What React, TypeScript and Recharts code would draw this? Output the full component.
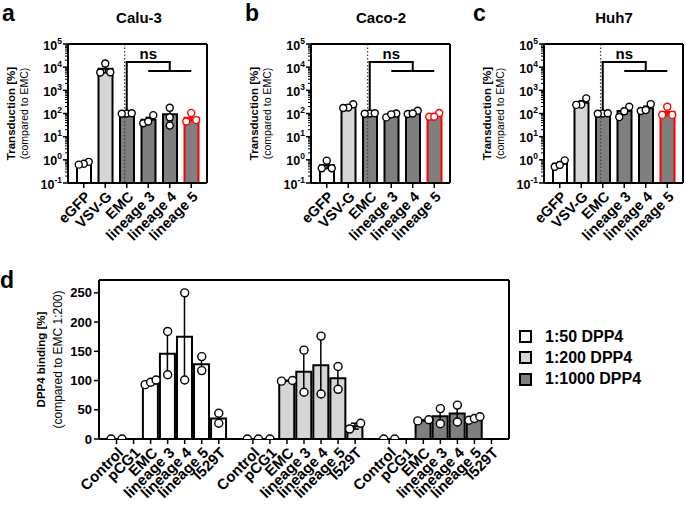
import React from "react";
import {
  Bar,
  Cell,
  ComposedChart,
  ErrorBar,
  Legend,
  ReferenceLine,
  Scatter,
  XAxis,
  YAxis,
} from "recharts";

const FONT = '"Liberation Sans", Arial, sans-serif';

// ---- panels a-c: transduction (log scale) ----
const transCats = ["eGFP", "VSV-G", "EMC", "lineage 3", "lineage 4", "lineage 5"];

const caluMean = [0.7, 8500, 100, 54, 92, 66];
const caluRep1 = [0.82, 14500, 100, 85, 178, 106];
const caluRep2 = [0.68, 5900, 98, 38, 69, 45];
const caluRep3 = [0.62, 6000, 102, 45, 30, 52];
const caluErr = [0.06, 2800, 1, 14, 43, 18];

const cacoMean = [0.58, 205, 100, 82, 108, 82];
const cacoRep1 = [0.92, 250, 100, 100, 132, 105];
const cacoRep2 = [0.43, 180, 98, 68, 95, 72];
const cacoRep3 = [0.43, 172, 102, 92, 100, 72];
const cacoErr = [0.16, 23, 1, 9, 11, 11];

const huhMean = [0.68, 290, 100, 128, 168, 120];
const huhRep1 = [0.95, 450, 100, 195, 255, 195];
const huhRep2 = [0.5, 245, 98, 70, 128, 87];
const huhRep3 = [0.6, 235, 102, 125, 140, 87];
const huhErr = [0.13, 70, 1, 36, 40, 35];

const logMajorTicks = [0.1, 1, 10, 100, 1000, 10000, 100000];
// bracket for "ns": EMC vs lineages
const nsBracket = { start: 116, top: 16600, low: 6800 };

// ---- panel d: DPP4 binding ----
const dppGroups = ["1:50 DPP4", "1:200 DPP4", "1:1000 DPP4"];
const dppCats = ["Control", "pCG1", "EMC", "lineage 3", "lineage 4", "lineage 5", "I529T"];

const dpp50Mean = [0, 0, 95, 146, 175, 128, 35];
const dpp50Rep1 = [0, null, 93, 184, 250, 141, 44];
const dpp50Rep2 = [0, null, 97, 110, 101, 117, 27];
const dpp50Rep3 = [null, null, 101, null, null, null, null];
const dpp50Err = [null, null, 2.4, 37, 75, 12, 8.5];

const dpp200Mean = [0, 0, 99.5, 115, 126, 104, 22];
const dpp200Rep1 = [0, 0, 100, 152, 176, 124, 27];
const dpp200Rep2 = [0, null, 99, 80, 77, 85, 17];
const dpp200Rep3 = [null, null, null, null, null, null, null];
const dpp200Err = [null, null, 0.5, 36, 50, 20, 5];

const dpp1000Mean = [0, 0, 32, 39, 43.5, 35, 0];
const dpp1000Rep1 = [0, null, 31, 52, 58, 32, null];
const dpp1000Rep2 = [0, null, 33, 26, 29, 35, null];
const dpp1000Rep3 = [null, null, null, null, null, 38, null];
const dpp1000Err = [null, null, 1, 13, 14.5, 1.7, null];

const dppTicks = [0, 50, 100, 150, 200, 250];

const dppFills = ["#ffffff", "#d6d6d6", "#7f7f7f"];
const AX = { stroke: "#000", strokeWidth: 2 };

type Val = number | null;

// spread overlapping replicate dots sideways, like a column scatter
function swarm(vals: Val[], near: (a: number, b: number) => boolean, step: number) {
  const offs = vals.map(() => 0);
  const order = vals
    .map((_, i) => i)
    .filter((i) => vals[i] != null)
    .sort((a, b) => (vals[a] as number) - (vals[b] as number));
  let cluster: number[] = [];
  const flush = () => {
    const s = cluster.length === 2 ? step * 2 : step;
    cluster.forEach((i, k) => (offs[i] = (k - (cluster.length - 1) / 2) * s));
    cluster = [];
  };
  order.forEach((i) => {
    const last = cluster[cluster.length - 1];
    if (cluster.length && !near(vals[last] as number, vals[i] as number)) flush();
    cluster.push(i);
  });
  flush();
  return offs;
}

const logNear = (a: number, b: number) => Math.abs(Math.log10(a) - Math.log10(b)) < 0.3;
const linNear = (a: number, b: number) => Math.abs(a - b) < 13;

const buildLogRows = (mean: number[], reps: number[][], err: number[]) =>
  transCats.map((name, i) => {
    const vals = reps.map((r) => r[i]);
    const red = name === "lineage 5";
    return {
      name,
      mean: mean[i],
      errK: red ? null : err[i],
      errR: red ? err[i] : null,
      r0: vals[0],
      r1: vals[1],
      r2: vals[2],
      offs: swarm(vals, logNear, 5),
      fill: name === "eGFP" ? "#ffffff" : name === "VSV-G" ? "#d6d6d6" : "#7f7f7f",
      line: red ? "#ff0000" : "#000000",
    };
  });

const caluRows = buildLogRows(caluMean, [caluRep1, caluRep2, caluRep3], caluErr);
const cacoRows = buildLogRows(cacoMean, [cacoRep1, cacoRep2, cacoRep3], cacoErr);
const huhRows = buildLogRows(huhMean, [huhRep1, huhRep2, huhRep3], huhErr);

const dppMeans = [dpp50Mean, dpp200Mean, dpp1000Mean];
const dppReps = [
  [dpp50Rep1, dpp50Rep2, dpp50Rep3],
  [dpp200Rep1, dpp200Rep2, dpp200Rep3],
  [dpp1000Rep1, dpp1000Rep2, dpp1000Rep3],
];
const dppErrs = [dpp50Err, dpp200Err, dpp1000Err];

const dppRows = dppGroups.flatMap((g, gi) => {
  const rows = dppCats.map((name, ci) => {
    const vals = dppReps[gi].map((r) => r[ci]);
    return {
      key: `${gi}-${name}`,
      name,
      group: gi,
      mean: dppMeans[gi][ci] as Val,
      err: dppErrs[gi][ci] as Val,
      r0: vals[0],
      r1: vals[1],
      r2: vals[2],
      offs: swarm(vals, linNear, 5.5),
      line: "#000000",
    };
  });
  if (gi === dppGroups.length - 1) return rows;
  const gap = { key: `gap-${gi}`, name: "", group: gi, mean: null, err: null, r0: null, r1: null, r2: null, offs: [0, 0, 0], line: "#000" };
  return [...rows, gap];
});
const dppNameByKey: Record<string, string> = Object.fromEntries(dppRows.map((r) => [r.key, r.name]));

// minor ticks between the decades
const logTicks = logMajorTicks.flatMap((t, i) =>
  i === logMajorTicks.length - 1 ? [t] : [t, ...[2, 3, 4, 5, 6, 7, 8, 9].map((m) => t * m)]
);

const makeDot = (k: number, r: number) => (props: any) => {
  const { cx, cy, payload } = props;
  const v = payload ? payload[`r${k}`] : null;
  if (v == null || !Number.isFinite(cx) || !Number.isFinite(cy)) return <g />;
  return <circle cx={cx + payload.offs[k]} cy={cy} r={r} fill="#fff" stroke={payload.line} strokeWidth={1.4} />;
};

const LogTick = (props: any) => {
  const { x, y, payload } = props;
  const e = Math.log10(payload.value);
  const major = Math.abs(e - Math.round(e)) < 1e-6;
  if (!major) return <line x1={x - 3} x2={x} y1={y} y2={y} stroke="#000" strokeWidth={1} />;
  return (
    <g>
      <line x1={x - 5} x2={x} y1={y} y2={y} stroke="#000" strokeWidth={1.5} />
      <text x={x - 6} y={y + 5.5} textAnchor="end" fontFamily={FONT} fontWeight={700} fontSize={12.5} fill="#000">
        10
        <tspan dy={-6} fontSize={8.5}>
          {Math.round(e)}
        </tspan>
      </text>
    </g>
  );
};

const rotLabel = (x: number, y: number, text: string, fs: number) => (
  <g>
    <line x1={x} x2={x} y1={y} y2={y + 5} stroke="#000" strokeWidth={1.5} />
    <text
      x={x + 4}
      y={y + 11}
      dy="0.35em"
      transform={`rotate(-45 ${x + 4} ${y + 11})`}
      textAnchor="end"
      fontFamily={FONT}
      fontWeight={700}
      fontSize={fs}
      fill="#000"
    >
      {text}
    </text>
  </g>
);

const transTick = (props: any) => rotLabel(props.x, props.y, props.payload.value, 14.5);

const dppTick = (props: any) => {
  const name = dppNameByKey[props.payload.value];
  if (!name) return <g />;
  return rotLabel(props.x, props.y, name, 15);
};

const axisTitle = (bold: string, normal: string, dB: number, dN: number, fsB: number, fsN: number) => (props: any) => {
  const vb = props.viewBox;
  const right = vb.x + vb.width;
  const cy = vb.y + vb.height / 2;
  return (
    <g fontFamily={FONT} fill="#000">
      <text x={right - dB} y={cy} transform={`rotate(-90 ${right - dB} ${cy})`} textAnchor="middle" dominantBaseline="central" fontWeight={700} fontSize={fsB}>
        {bold}
      </text>
      <text x={right - dN} y={cy} transform={`rotate(-90 ${right - dN} ${cy})`} textAnchor="middle" dominantBaseline="central" fontSize={fsN}>
        {normal}
      </text>
    </g>
  );
};

type LogRow = ReturnType<typeof buildLogRows>[number];

function LogPanel({ rows, left, width }: { rows: LogRow[]; left: number; width: number }) {
  const pad = { left: 5, right: 5 };
  return (
    <div style={{ position: "absolute", left, top: 0, width, height: 262 }}>
      <ComposedChart width={width} height={262} data={rows} margin={{ top: 43, right: width - 68 - 139 - 1, bottom: 9, left: 0 }}>
        <XAxis dataKey="name" type="category" interval={0} height={70} tickSize={0} tickMargin={0} tickLine={false} tick={transTick} padding={pad} axisLine={AX} />
        <XAxis xAxisId="top" orientation="top" type="number" domain={[0, 6]} allowDataOverflow height={1} tick={false} tickLine={false} padding={pad} axisLine={AX} />
        <YAxis
          scale="log"
          type="number"
          domain={[0.1, 100000]}
          allowDataOverflow
          ticks={logTicks}
          interval={0}
          width={68}
          tickSize={0}
          tickMargin={0}
          tickLine={false}
          tick={LogTick}
          axisLine={AX}
          label={axisTitle("Transduction [%]", "(compared to EMC)", 57, 44, 11.5, 10.5)}
        />
        <YAxis yAxisId="right" orientation="right" width={1} tick={false} tickLine={false} axisLine={AX} />
        <ReferenceLine xAxisId="top" x={2} stroke="#444" strokeWidth={1.3} strokeDasharray="1.5 2" />
        <Bar dataKey="mean" barSize={14} strokeWidth={2} isAnimationActive={false}>
          {rows.map((r) => (
            <Cell key={r.name} fill={r.fill} stroke={r.line} />
          ))}
          <ErrorBar dataKey="errK" width={3} stroke="#000" strokeWidth={1.5} isAnimationActive={false} />
          <ErrorBar dataKey="errR" width={3} stroke="#ff0000" strokeWidth={1.5} isAnimationActive={false} />
        </Bar>
        {[0, 1, 2].map((k) => (
          <Scatter key={k} dataKey={`r${k}`} isAnimationActive={false} shape={makeDot(k, 3.5)} />
        ))}
        <ReferenceLine segment={[{ x: "EMC", y: nsBracket.start }, { x: "EMC", y: nsBracket.top }]} stroke="#000" strokeWidth={2} strokeLinecap="square" />
        <ReferenceLine
          segment={[{ x: "EMC", y: nsBracket.top }, { x: "lineage 4", y: nsBracket.top }]}
          stroke="#000"
          strokeWidth={2}
          strokeLinecap="square"
          label={{ value: "ns", position: "top", offset: 3, fontSize: 15, fontWeight: 700, fill: "#000", fontFamily: FONT }}
        />
        <ReferenceLine segment={[{ x: "lineage 4", y: nsBracket.top }, { x: "lineage 4", y: nsBracket.low }]} stroke="#000" strokeWidth={2} />
        <ReferenceLine segment={[{ x: "lineage 3", y: nsBracket.low }, { x: "lineage 5", y: nsBracket.low }]} stroke="#000" strokeWidth={2} />
      </ComposedChart>
    </div>
  );
}

const DppLegend = () => (
  <div style={{ fontFamily: FONT, fontWeight: 700, fontSize: 16, color: "#000" }}>
    {dppGroups.map((g, i) => (
      <div key={g} style={{ display: "flex", alignItems: "center", height: 21.3 }}>
        <span style={{ width: 9, height: 9, border: "2px solid #000", background: dppFills[i], marginRight: 13 }} />
        {g}
      </div>
    ))}
  </div>
);

function DppPanel() {
  const pad = { left: 9, right: 9 };
  return (
    <div style={{ position: "absolute", left: 0, top: 270, width: 685, height: 237 }}>
      <ComposedChart width={685} height={237} data={dppRows} barCategoryGap={0.8} margin={{ top: 9, right: 175, bottom: 4, left: 0 }}>
        <XAxis dataKey="key" type="category" interval={0} height={64} tickSize={0} tickMargin={0} tickLine={false} tick={dppTick} padding={pad} axisLine={AX} />
        <XAxis xAxisId="ov" dataKey="key" type="category" hide padding={pad} />
        <XAxis xAxisId="top" orientation="top" type="number" domain={[0, 1]} height={1} tick={false} tickLine={false} axisLine={AX} />
        <YAxis
          type="number"
          domain={[0, 272]}
          allowDataOverflow
          ticks={dppTicks}
          interval={0}
          width={99}
          tickSize={5}
          tickMargin={2}
          tickLine={{ stroke: "#000", strokeWidth: 1.5 }}
          tick={{ fill: "#000", fontSize: 13, fontWeight: 700, fontFamily: FONT }}
          axisLine={AX}
          label={axisTitle("DPP4 binding [%]", "(compared to EMC 1:200)", 58, 41, 11.5, 12)}
        />
        <YAxis yAxisId="right" orientation="right" width={1} tick={false} tickLine={false} axisLine={AX} />
        <Bar dataKey="mean" stroke="#000" strokeWidth={2} isAnimationActive={false}>
          {dppRows.map((r) => (
            <Cell key={r.key} fill={dppFills[r.group]} />
          ))}
        </Bar>
        {[0, 1, 2].map((k) => (
          <Scatter key={k} dataKey={`r${k}`} isAnimationActive={false} shape={makeDot(k, 4)} />
        ))}
        <Bar xAxisId="ov" dataKey="mean" fill="none" stroke="none" isAnimationActive={false}>
          <ErrorBar dataKey="err" width={4} stroke="#000" strokeWidth={1.5} isAnimationActive={false} />
        </Bar>
        <Legend layout="vertical" align="center" verticalAlign="middle" content={DppLegend} wrapperStyle={{ left: 519, top: 56, width: 166 }} />
      </ComposedChart>
    </div>
  );
}

export default function App() {
  return (
    <div style={{ position: "absolute", left: 0, top: 0, width: 685, height: 507, overflow: "hidden", background: "#fff" }}>
      <LogPanel rows={caluRows} left={0} width={229} />
      <LogPanel rows={cacoRows} left={243} width={229} />
      <LogPanel rows={huhRows} left={476} width={209} />
      <DppPanel />
      <svg width={685} height={507} style={{ position: "absolute", left: 0, top: 0, pointerEvents: "none" }} fontFamily={FONT} fill="#000">
        <text x={2} y={21} fontSize={23} fontWeight={700}>a</text>
        <text x={245} y={21} fontSize={23} fontWeight={700}>b</text>
        <text x={473} y={21} fontSize={23} fontWeight={700}>c</text>
        <text x={0} y={288} fontSize={23} fontWeight={700}>d</text>
        <text x={139} y={23} fontSize={15} fontWeight={700} textAnchor="middle">Calu-3</text>
        <text x={381} y={23} fontSize={15} fontWeight={700} textAnchor="middle">Caco-2</text>
        <text x={614} y={23} fontSize={15} fontWeight={700} textAnchor="middle">Huh7</text>
      </svg>
    </div>
  );
}
